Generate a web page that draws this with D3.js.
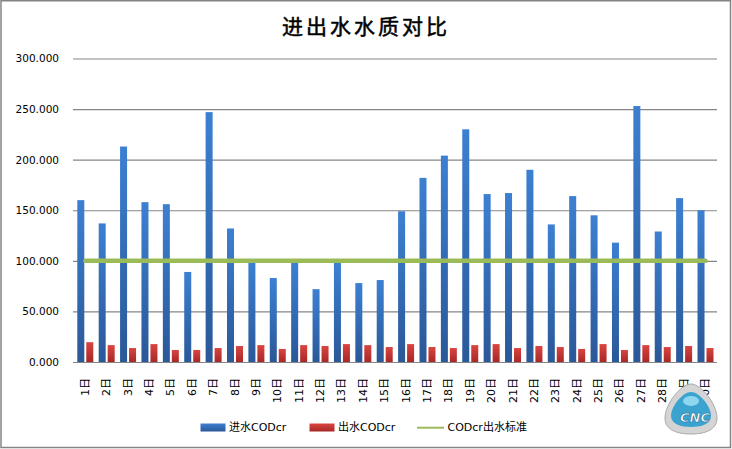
<!DOCTYPE html>
<html>
<head>
<meta charset="utf-8">
<script src="https://cdn.jsdelivr.net/npm/d3@7"></script>
<style>
  body { margin: 0; background: #fff; }
  svg { display: block; }
  .tick text { font-family: "DejaVu Sans", "Noto Sans CJK SC", sans-serif; }
</style>
</head>
<body>
<div id="chart"></div>
<script>
// data
const days = ["1", "2", "3", "4", "5", "6", "7", "8", "9", "10",
              "11", "12", "13", "14", "15", "16", "17", "18", "19", "20",
              "21", "22", "23", "24", "25", "26", "27", "28", "29", "30"];
const inflowCOD = [160, 137, 213, 158, 156, 89, 247, 132, 99, 83,
                   98, 72, 98, 78, 81, 149, 182, 204, 230, 166,
                   167, 190, 136, 164, 145, 118, 253, 129, 162, 150];
const outflowCOD = [19.6, 16.7, 13.8, 17.7, 11.9, 11.9, 13.8, 15.8, 16.7, 12.9,
                    16.7, 15.8, 17.7, 16.7, 14.8, 17.7, 14.8, 13.8, 16.7, 17.7,
                    13.8, 15.8, 14.8, 12.9, 17.7, 11.9, 16.7, 14.8, 15.8, 13.8];
const standardCOD = [100, 100, 100, 100, 100, 100, 100, 100, 100, 100,
                     100, 100, 100, 100, 100, 100, 100, 100, 100, 100,
                     100, 100, 100, 100, 100, 100, 100, 100, 100, 100];
const yTicks = [0, 50, 100, 150, 200, 250, 300];
const seriesNames = ["进水CODcr", "出水CODcr", "CODcr出水标准"];

const width = 732, height = 449;
const plot = { left: 74.6, right: 716.2, top: 58.5, bottom: 362 };

const svg = d3.select("#chart").append("svg")
    .attr("width", width)
    .attr("height", height);

// gradients for the bars
const defs = svg.append("defs");
function barGradient(id, top, bottom) {
    const g = defs.append("linearGradient")
        .attr("id", id)
        .attr("x1", 0).attr("y1", 0).attr("x2", 0).attr("y2", 1);
    g.append("stop").attr("offset", "0%").attr("stop-color", top);
    g.append("stop").attr("offset", "100%").attr("stop-color", bottom);
}
barGradient("gradIn", "#3C80D2", "#2A5898");
barGradient("gradOut", "#DA4540", "#A82828");

svg.append("rect")
    .attr("x", 1).attr("y", 0.75)
    .attr("width", 729.5).attr("height", 446.75)
    .attr("fill", "#fff")
    .attr("stroke", "#848484")
    .attr("stroke-width", 1.5);

// title
svg.append("text")
    .attr("x", 366)
    .attr("y", 34)
    .attr("text-anchor", "middle")
    .style("font-family", "'Noto Sans CJK SC', sans-serif")
    .style("font-size", "21px")
    .style("letter-spacing", "3px")
    .attr("stroke", "#000")
    .attr("stroke-width", 0.5)
    .text("进出水水质对比");

// scales
const x = d3.scaleBand()
    .domain(days)
    .range([plot.left, plot.right])
    .padding(0);

const xSub = d3.scaleBand()
    .domain(["in", "out"])
    .range([0, x.bandwidth()])
    .paddingInner(0.22)
    .paddingOuter(0.3);

const y = d3.scaleLinear()
    .domain([0, 300])
    .range([plot.bottom, plot.top]);

// y axis with gridlines
const yAxis = svg.append("g")
    .attr("transform", `translate(73,0)`)
    .call(d3.axisLeft(y)
        .tickValues(yTicks)
        .tickFormat(d3.format(".3f"))
        .tickSize(-644)
        .tickPadding(14));
yAxis.select(".domain").remove();
yAxis.selectAll(".tick line")
    .attr("stroke", "#868686")
    .attr("stroke-width", 1.2);
yAxis.selectAll(".tick text")
    .style("font-size", "10.5px")
    .attr("fill", "#000");

// x axis labels
const xAxis = svg.append("g")
    .attr("transform", `translate(0,${plot.bottom})`)
    .call(d3.axisBottom(x).tickSize(0).tickFormat(d => d + "日"));
xAxis.select(".domain").remove();
xAxis.selectAll(".tick text")
    .attr("transform", "translate(0,16) rotate(-90)")
    .attr("x", 0)
    .attr("y", 0)
    .attr("dy", null)
    .attr("text-anchor", "end")
    .attr("dominant-baseline", "central")
    .attr("fill", "#000")
    .style("font-size", "11px");

// bars
const groups = svg.append("g")
    .selectAll("g")
    .data(days)
    .join("g")
    .attr("transform", d => `translate(${x(d)},0)`);

groups.append("rect")
    .attr("x", xSub("in"))
    .attr("y", (d, i) => y(inflowCOD[i]))
    .attr("width", xSub.bandwidth())
    .attr("height", (d, i) => y(0) - y(inflowCOD[i]))
    .attr("fill", "url(#gradIn)");

groups.append("rect")
    .attr("x", xSub("out"))
    .attr("y", (d, i) => y(outflowCOD[i]))
    .attr("width", xSub.bandwidth())
    .attr("height", (d, i) => y(0) - y(outflowCOD[i]))
    .attr("fill", "url(#gradOut)");

// standard line
const line = d3.line()
    .x((d, i) => x(days[i]) + x.bandwidth() / 2)
    .y(d => y(d));

svg.append("path")
    .datum(standardCOD)
    .attr("d", line)
    .attr("fill", "none")
    .attr("stroke", "#9BBB59")
    .attr("stroke-width", 4.5)
    .attr("stroke-linecap", "round");

// legend
const legend = svg.append("g")
    .style("font-family", "'DejaVu Sans', 'Noto Sans CJK SC', sans-serif")
    .style("font-size", "11px");

legend.append("rect")
    .attr("x", 200.5).attr("y", 423.5)
    .attr("width", 25).attr("height", 8)
    .attr("fill", "url(#gradIn)");
legend.append("text")
    .attr("x", 229).attr("y", 427.5)
    .attr("dominant-baseline", "central")
    .text(seriesNames[0]);

legend.append("rect")
    .attr("x", 309.5).attr("y", 423.5)
    .attr("width", 25).attr("height", 8)
    .attr("fill", "url(#gradOut)");
legend.append("text")
    .attr("x", 338).attr("y", 427.5)
    .attr("dominant-baseline", "central")
    .text(seriesNames[1]);

legend.append("line")
    .attr("x1", 417).attr("x2", 444)
    .attr("y1", 427.7).attr("y2", 427.7)
    .attr("stroke", "#9BBB59")
    .attr("stroke-width", 2);
legend.append("text")
    .attr("x", 447.5).attr("y", 427.5)
    .attr("dominant-baseline", "central")
    .text(seriesNames[2]);

// CNC watermark
const logo = svg.append("g").attr("transform", "translate(691,410)");
logo.append("path")
    .attr("d", "M0,-26 C10,-26 26,-6 26,8 C26,20 14,24 0,24 C-14,24 -26,20 -26,8 C-26,-6 -10,-26 0,-26 Z")
    .attr("fill", "#d4d4d4")
    .attr("stroke", "#aaaaaa")
    .attr("stroke-width", 1);
logo.append("path")
    .attr("d", "M0,-18 C8,-18 20,-4 20,6 C20,14 10,17 0,17 C-10,17 -20,14 -20,6 C-20,-4 -8,-18 0,-18 Z")
    .attr("fill", "#3aa3cf");
logo.append("ellipse")
    .attr("cx", 0).attr("cy", -9)
    .attr("rx", 8).attr("ry", 5)
    .attr("fill", "#8fd6f0");
logo.append("text")
    .attr("x", 4).attr("y", 12)
    .attr("text-anchor", "middle")
    .style("font-family", "'DejaVu Sans', sans-serif")
    .style("font-size", "13px")
    .style("font-weight", "bold")
    .style("font-style", "italic")
    .attr("fill", "#fff")
    .attr("stroke", "#1f6f99")
    .attr("stroke-width", 0.6)
    .text("CNC");
</script>
</body>
</html>
